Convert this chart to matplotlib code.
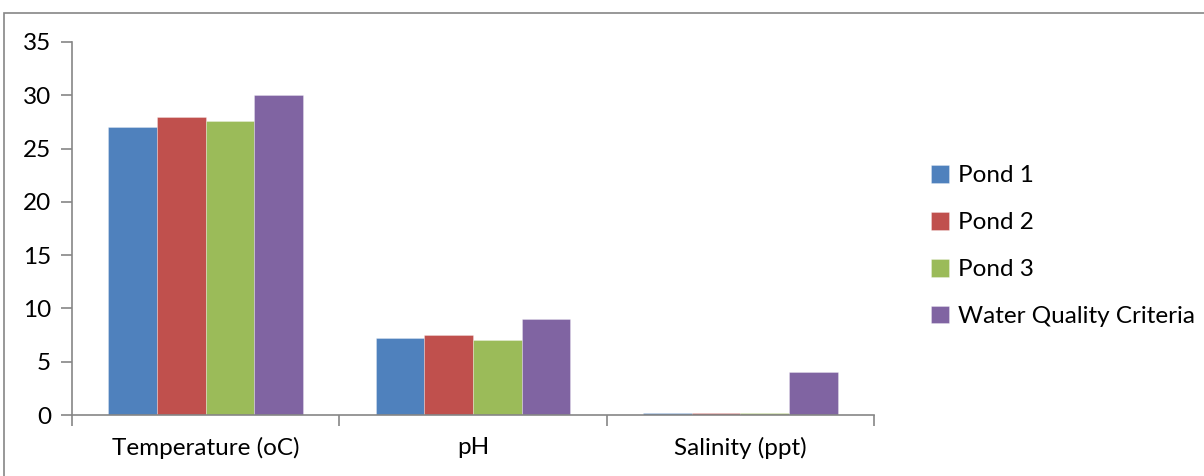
#!/usr/bin/env python3

"""
Grouped bar chart of pond water quality against the water quality criteria.
"""

import numpy as np
import matplotlib.pyplot as plt
from matplotlib.patches import Rectangle

plt.rcParams["font.family"] = ["Lato", "DejaVu Sans"]

# Parameters measured in each pond
CATEGORIES = ["Temperature (oC)", "pH", "Salinity (ppt)"]
SERIES = ["Pond 1", "Pond 2", "Pond 3", "Water Quality Criteria"]

POND_1 = [27.0, 7.2, 0.15]
POND_2 = [28.0, 7.5, 0.2]
POND_3 = [27.6, 7.0, 0.15]
CRITERIA = [30.0, 9.0, 4.0]

Y_TICKS = [0, 5, 10, 15, 20, 25, 30, 35]

COLORS = ["#4F81BD", "#C0504D", "#9BBB59", "#8064A2"]
AXIS_GREY = "#868686"
FONT_SIZE = 17.5


def main():
    fig = plt.figure(figsize=(12.04, 4.76), dpi=100)
    ax = fig.add_axes([72 / 1204, 1 - 415 / 476, (874 - 72) / 1204, (415 - 42) / 476])

    # Outer chart border (runs off the right and bottom edges)
    fig.patches.append(Rectangle((4 / 1204, -0.1), 1.2, 1 - 13 / 476 + 0.1,
                                 transform=fig.transFigure, fill=False,
                                 edgecolor=AXIS_GREY, linewidth=1.2))

    values = [POND_1, POND_2, POND_3, CRITERIA]
    x = np.arange(len(CATEGORIES))
    width = 1 / 5.5
    for i, (name, vals) in enumerate(zip(SERIES, values)):
        offset = (i - 1.5) * width
        ax.bar(x + offset, vals, width, color=COLORS[i], label=name,
               edgecolor=(1, 1, 1, 0.5), linewidth=0.4)

    ax.set_xlim(-0.5, len(CATEGORIES) - 0.5)
    ax.set_ylim(0, 35)
    ax.set_yticks(Y_TICKS)
    ax.set_yticklabels([str(t) for t in Y_TICKS], fontsize=FONT_SIZE)

    # Category labels centered, tick marks at group boundaries
    ax.set_xticks(np.arange(-0.5, len(CATEGORIES)), minor=False)
    ax.set_xticklabels([""] * (len(CATEGORIES) + 1))
    ax.set_xticks(x, minor=True)
    ax.set_xticklabels(CATEGORIES, minor=True, fontsize=FONT_SIZE)
    ax.tick_params(axis="x", which="minor", length=0, pad=16)
    ax.tick_params(axis="x", which="major", length=8, width=1.2,
                   color=AXIS_GREY, direction="out")
    ax.tick_params(axis="y", length=8, width=1.2, color=AXIS_GREY,
                   direction="out", pad=7)

    for side in ("top", "right"):
        ax.spines[side].set_visible(False)
    for side in ("left", "bottom"):
        ax.spines[side].set_color(AXIS_GREY)
        ax.spines[side].set_linewidth(1.2)

    ax.legend(loc="center left", bbox_to_anchor=(909 / 1204, 1 - 246 / 476),
              bbox_transform=fig.transFigure, frameon=False, fontsize=FONT_SIZE,
              handlelength=0.75, handleheight=0.75, handletextpad=0.35,
              labelspacing=1.05)

    fig.savefig("out.png", dpi=100)
    plt.close(fig)


if __name__ == "__main__":
    main()
